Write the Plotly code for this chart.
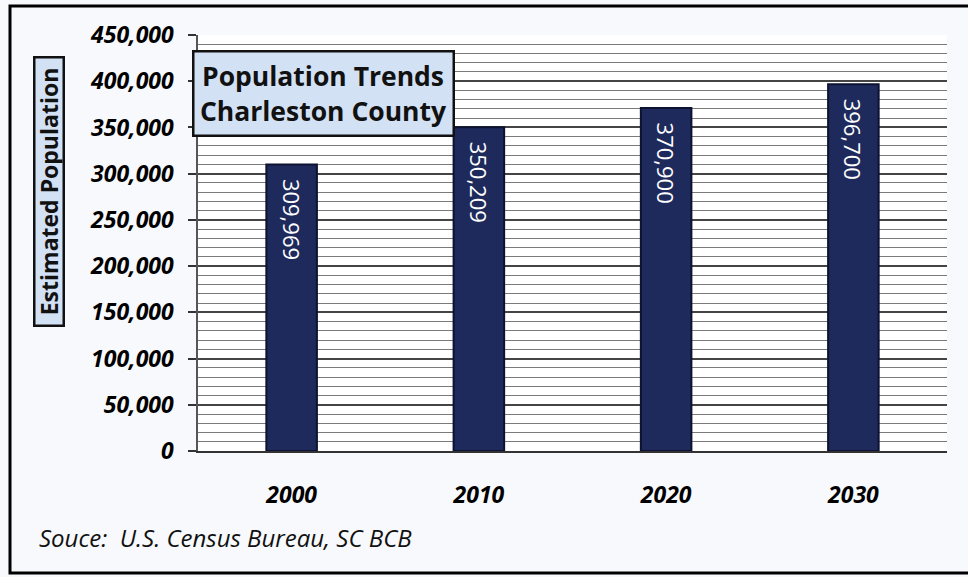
import plotly.graph_objects as go

years = ["2000", "2010", "2020", "2030"]
population = [309969, 350209, 370900, 396700]
value_labels = ["309,969", "350,209", "370,900", "396,700"]
y_tick_vals = [0, 50000, 100000, 150000, 200000, 250000, 300000, 350000, 400000, 450000]
y_tick_text = ["0", "50,000", "100,000", "150,000", "200,000", "250,000",
               "300,000", "350,000", "400,000", "450,000"]
title_text = "Population Trends<br>Charleston County"
y_title = "Estimated Population"
source_text = "Souce:\u00a0 U.S. Census Bureau, SC BCB"

FONT = "Open Sans"

fig = go.Figure()
fig.add_trace(go.Bar(
    x=years, y=population,
    text=["\u00a0\u00a0" + t for t in value_labels],
    textposition="inside",
    insidetextanchor="end",
    textangle=90,
    textfont=dict(family=FONT, size=22, color="white"),
    marker=dict(color="#1e2a5c", line=dict(color="#0d1230", width=2)),
    width=0.27,
    hoverinfo="skip",
))

L, R, T, B = 198, 21, 35, 126
W, H = 968, 577
pw, ph = W - L - R, H - T - B

def px_x(x):
    return (x - L) / pw

def px_y(y):
    return (H - B - y) / ph

fig.update_layout(
    width=W, height=H,
    margin=dict(l=L, r=R, t=T, b=B),
    paper_bgcolor="#f8f9fc",
    plot_bgcolor="white",
    showlegend=False,
    font=dict(family=FONT, color="black"),
    bargap=0.73,
    uniformtext=dict(minsize=8, mode=False),
)

fig.update_yaxes(
    range=[0, 450000],
    tickvals=y_tick_vals, ticktext=y_tick_text,
    tickfont=dict(family=FONT, size=23, weight="bold", style="italic", color="black"),
    ticks="outside", ticklen=8, tickcolor="#333", tickwidth=1.5,
    ticklabelstandoff=10,
    showgrid=True, gridcolor="#444", gridwidth=1.5,
    minor=dict(dtick=10000, showgrid=True, gridcolor="#7a7a7a", gridwidth=1),
    showline=True, linecolor="#555", linewidth=1.5,
    zeroline=False,
)
fig.update_xaxes(
    tickfont=dict(family=FONT, size=23, weight="bold", style="italic", color="black"),
    ticks="", ticklabelstandoff=22,
    showline=True, linecolor="#333", linewidth=2,
    showgrid=False,
)

# title box
fig.add_annotation(
    xref="paper", yref="paper",
    x=px_x(192), y=px_y(50), xanchor="left", yanchor="top",
    text="<b>" + title_text + "</b>",
    showarrow=False,
    font=dict(family=FONT, size=26.5, color="#111"),
    bgcolor="#d3e1f5", bordercolor="#111", borderwidth=2.5, borderpad=0,
    width=258, height=82, align="center",
)

# y-axis title box
fig.add_annotation(
    xref="paper", yref="paper",
    x=px_x(49), y=px_y(192), xanchor="center", yanchor="middle",
    text="<b>" + y_title + "</b>",
    textangle=-90,
    showarrow=False,
    font=dict(family=FONT, size=23, color="#111"),
    bgcolor="#d3e1f5", bordercolor="#111", borderwidth=2.5, borderpad=0,
    width=266, height=27,
)

# source
fig.add_annotation(
    xref="paper", yref="paper",
    x=px_x(37), y=px_y(537), xanchor="left", yanchor="middle",
    text="<i>" + source_text + "</i>",
    showarrow=False,
    font=dict(family=FONT, size=24, color="#111"),
)

# outer frame
fig.add_shape(
    type="rect", xref="paper", yref="paper",
    x0=px_x(10), x1=px_x(990), y0=px_y(573), y1=px_y(6),
    line=dict(color="black", width=3), fillcolor="rgba(0,0,0,0)",
    layer="above",
)

fig.write_html("out.html")
